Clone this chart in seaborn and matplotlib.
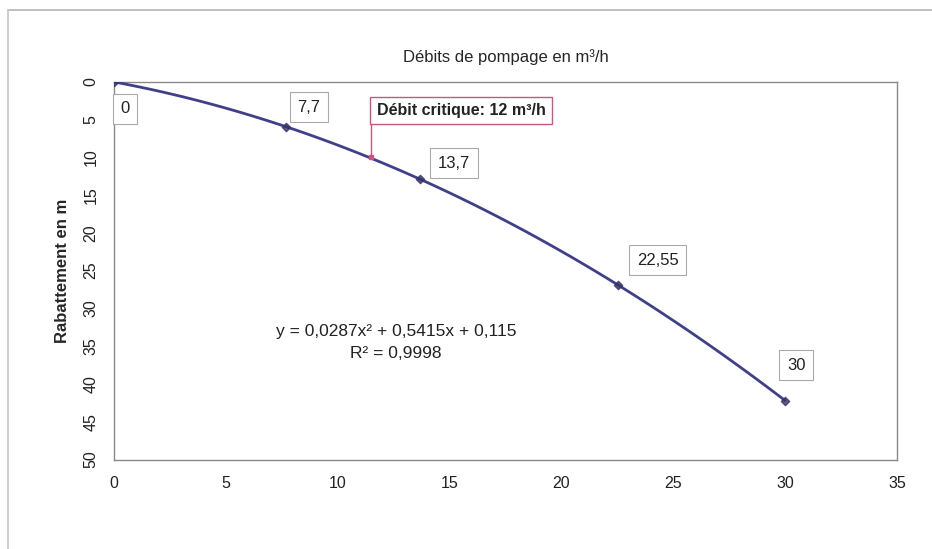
import numpy as np
import pandas as pd
import matplotlib
matplotlib.use("Agg")
import matplotlib.pyplot as plt
from matplotlib.lines import Line2D
import seaborn as sns

sns.set_style("white")
plt.rcParams["font.family"] = ["Liberation Sans", "DejaVu Sans"]

# --------------------------------------
# DATA
# --------------------------------------
debit = [0, 7.7, 13.7, 22.55, 30]
rabattement = [0, 6.0, 12.9, 26.9, 42.2]
point_labels = ["0", "7,7", "13,7", "22,55", "30"]
label_x = [0.5, 8.7, 15.2, 24.3, 30.5]
label_y = [3.6, 3.4, 10.8, 23.6, 37.5]

crit_x = 11.5
crit_y = 9.9
crit_text = "Débit critique: 12 m³/h"

equation = "y = 0,0287x² + 0,5415x + 0,115"
r2_text = "R² = 0,9998"

x_ticks = [0, 5, 10, 15, 20, 25, 30, 35]
y_ticks = [0, 5, 10, 15, 20, 25, 30, 35, 40, 45, 50]

df = pd.DataFrame({"debit": debit, "rabattement": rabattement})

# --------------------------------------
# PLOT
# --------------------------------------
fig = plt.figure(figsize=(9.32, 5.49), dpi=100)
ax = fig.add_axes([0.1223, 0.163, 0.840, 0.688])

line_col = "#40408a"
sns.regplot(data=df, x="debit", y="rabattement", order=2, ci=None, ax=ax,
            marker="D", truncate=True,
            scatter_kws={"s": 18, "color": "#333366", "zorder": 4},
            line_kws={"color": line_col, "lw": 2.0, "zorder": 3})

ax.set_xlim(0, 35)
ax.set_ylim(50, 0)
ax.set_xticks(x_ticks)
ax.set_yticks(y_ticks)
ax.set_xlabel("")
ax.set_ylabel("Rabattement en m", fontsize=12, fontweight="bold", labelpad=10)
ax.set_title("Débits de pompage en m³/h", fontsize=12, pad=14)

for tl in ax.get_yticklabels():
    tl.set_rotation(90)
    tl.set_va("center")
ax.tick_params(axis="both", length=3, width=0.8,
               color="#888888", labelcolor="#222222", direction="out")
ax.tick_params(axis="y", labelsize=11.5, pad=8)
ax.tick_params(axis="x", labelsize=11.5, pad=9)
for sp in ax.spines.values():
    sp.set_color("#8a8a8a")
    sp.set_linewidth(1.0)

# data labels
for lab, lx, ly in zip(point_labels, label_x, label_y):
    ax.text(lx, ly, lab, fontsize=12, ha="center", va="center", color="#222222",
            bbox=dict(boxstyle="square,pad=0.45", fc="white", ec="#aaaaaa", lw=0.8),
            zorder=5)

# critical flow annotation
pink = "#cc5580"
ax.plot([crit_x, crit_x], [crit_y, 5.0], color=pink, lw=1.0, zorder=4)
ax.plot(crit_x, crit_y, marker="s", ms=3.5, color=pink, zorder=6)
ax.text(crit_x + 0.25, 3.8, crit_text, fontsize=11.5, fontweight="bold",
        ha="left", va="center", color="#222222",
        bbox=dict(boxstyle="square,pad=0.4", fc="white", ec=pink, lw=1.0),
        zorder=5)

# trendline equation
ax.text(12.6, 33.0, equation, fontsize=12.5, ha="center", va="center", color="#222222")
ax.text(12.6, 36.0, r2_text, fontsize=12.5, ha="center", va="center", color="#222222")

# chart area border (top and left edges)
fig.add_artist(Line2D([0.009, 1.0], [0.982, 0.982], color="#b5b5b5", lw=1.2))
fig.add_artist(Line2D([0.009, 0.009], [0.0, 0.982], color="#c5c5c5", lw=1.2))

fig.savefig("out.png", dpi=100, facecolor="white")
